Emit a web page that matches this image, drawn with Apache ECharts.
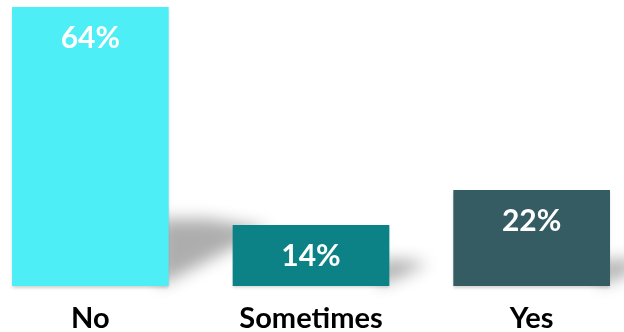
<!DOCTYPE html>
<html>
<head>
<meta charset="utf-8">
<script src="https://cdn.jsdelivr.net/npm/echarts@6/dist/echarts.min.js"></script>
<style>
  html, body { margin: 0; padding: 0; background: #fff; }
  #chart { width: 624px; height: 332px; }
</style>
</head>
<body>
<div id="chart"></div>
<script>
// answers and share of respondents (%)
const categories = ["No", "Sometimes", "Yes"];
const values = [64, 14, 22];
const barColors = ["#4DEEF5", "#0C8287", "#345C62"];

const chart = echarts.init(document.getElementById("chart"));

// soft floor shadow cast to the right of each bar;
// the shape sits off-canvas and only its blurred shadow is shifted back
const OFF = 2000;
function renderShadow(params, api) {
  const top = api.coord([api.value(0), api.value(1)]);
  const base = api.coord([api.value(0), 0]);
  const halfW = api.size([1, 0])[0] * 0.355;
  const h = base[1] - top[1];
  const right = base[0] + halfW;
  const sh = Math.max(h * 0.24, 26);
  const len = sh * 1.5;
  return {
    type: "polygon",
    shape: {
      points: [
        [right - 10 - OFF, base[1]],
        [right - 10 - OFF, base[1] - sh],
        [right + len * 0.4 - OFF, base[1] - sh],
        [right + len - OFF, base[1] - sh * 0.85],
      ],
    },
    style: {
      fill: "#000",
      shadowBlur: 16,
      shadowOffsetX: OFF,
      shadowColor: "rgba(0,0,0,0.32)",
    },
  };
}

const option = {
  animation: false,
  grid: {
    top: 7,
    bottom: 46,
    left: -20,
    right: -18,
    outerBoundsMode: "none",
    containLabel: false,
  },
  xAxis: {
    type: "category",
    data: categories,
    axisLine: { show: false },
    axisTick: { show: false },
    axisLabel: {
      margin: 18,
      color: "#000",
      fontFamily: "Lato",
      fontWeight: "bold",
      fontSize: 29,
    },
  },
  yAxis: {
    type: "value",
    min: 0,
    max: 64,
    show: false,
  },
  series: [
    {
      type: "custom",
      renderItem: renderShadow,
      data: values.map((v, i) => [i, v]),
      z: 1,
      silent: true,
      clip: false,
    },
    {
      type: "bar",
      barWidth: "71%",
      z: 2,
      data: values.map((v, i) => ({
        value: v,
        itemStyle: { color: barColors[i] },
      })),
      itemStyle: {
        shadowColor: "rgba(0,0,0,0.18)",
        shadowBlur: 3,
        shadowOffsetY: 2,
      },
      label: {
        show: true,
        position: "insideTop",
        distance: 16,
        color: "#fff",
        fontFamily: "Lato",
        fontWeight: "bold",
        fontSize: 30,
        formatter: (p) => p.value + "%",
      },
    },
  ],
};
chart.setOption(option);
</script>
</body>
</html>
